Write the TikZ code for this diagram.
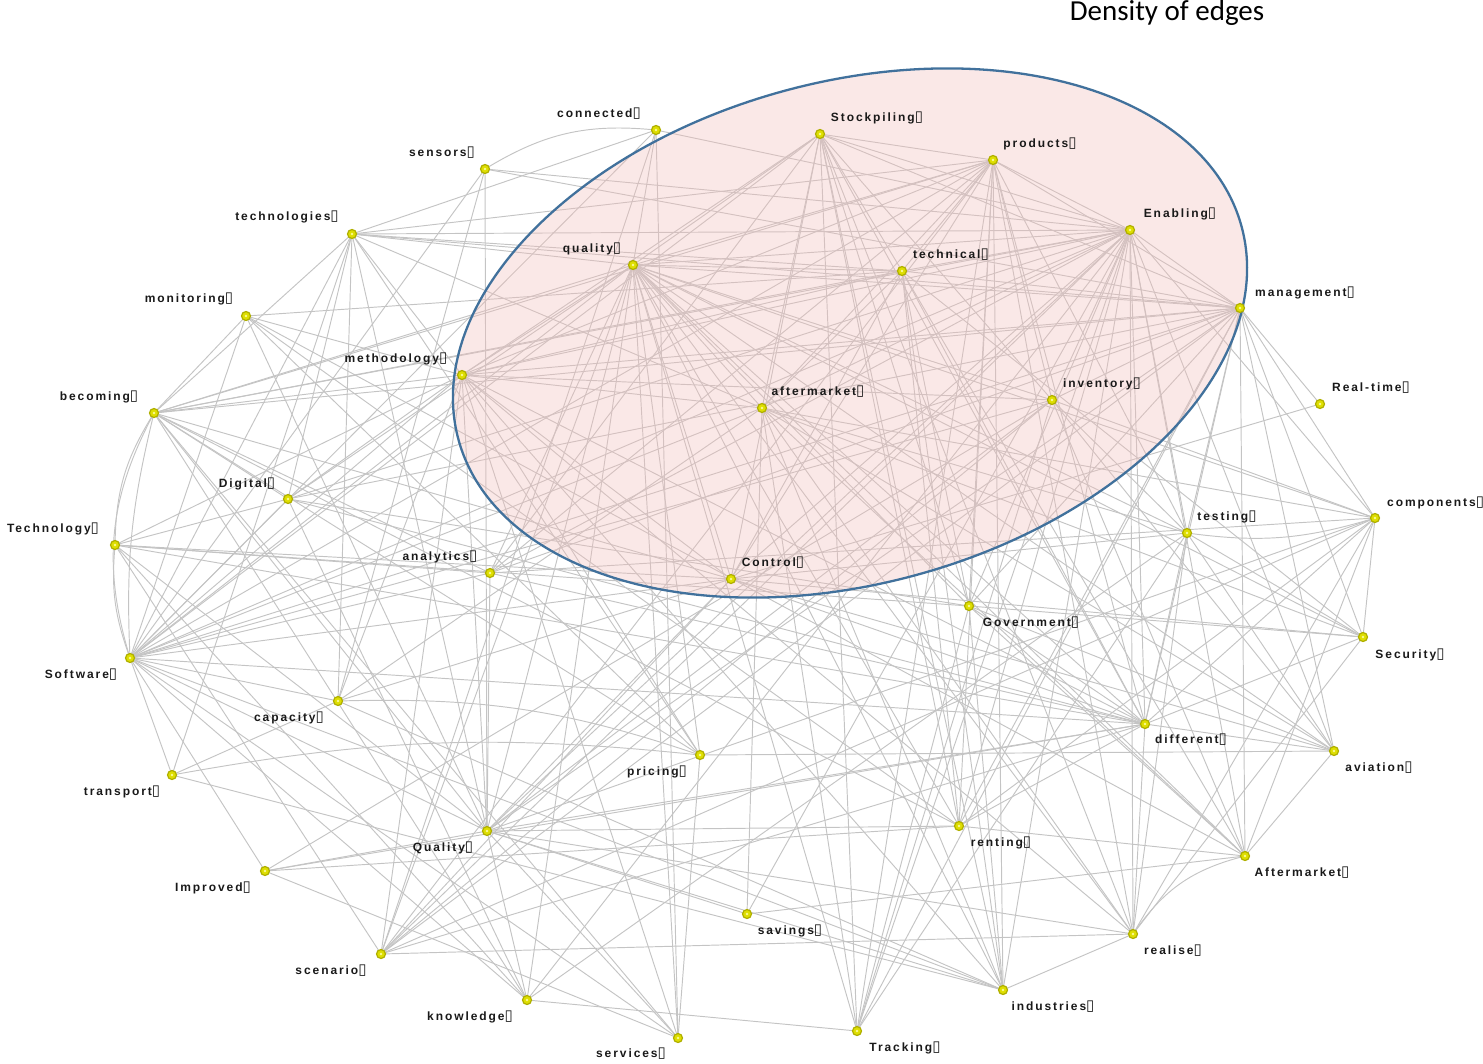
\documentclass[tikz,border=0pt]{standalone}
\usepackage{fontspec}
\newfontfamily\labfont[LetterSpace=16]{Liberation Sans}
\newfontfamily\bxglyphfont{DejaVu Sans}
\newfontfamily\titlefont{Carlito}
\newcommand{\bxg}{{\bxglyphfont\fontsize{15}{15}\selectfont ▯}}
\definecolor{edgegray}{RGB}{196,196,196}
\definecolor{dotfill}{RGB}{222,222,0}
\definecolor{dotring}{RGB}{175,175,0}
\definecolor{dotcore}{RGB}{250,250,150}
\definecolor{pinkfill}{RGB}{242,190,186}
\definecolor{ellblue}{RGB}{65,113,156}
\definecolor{labtext}{RGB}{25,25,25}
\begin{document}
\begin{tikzpicture}[x=1pt,y=-1pt,
  edge/.style={draw=edgegray,line width=0.95pt},
  dot/.style={circle,fill=dotfill,draw=dotring,line width=1.2pt,minimum size=9pt,inner sep=0pt},
  dotc/.style={circle,fill=dotcore,minimum size=2.6pt,inner sep=0pt},
  lab/.style={font=\labfont\bfseries\fontsize{12}{14}\selectfont,inner sep=0pt,text=labtext},
  ttl/.style={font=\titlefont\fontsize{29}{32}\selectfont,inner sep=0pt,text=black}]
\useasboundingbox (0,0) rectangle (1483,1063);
% node positions
\coordinate (p-con) at (656,130);
\coordinate (p-stk) at (820,134);
\coordinate (p-prd) at (993,160);
\coordinate (p-sen) at (485,169);
\coordinate (p-enb) at (1130,230);
\coordinate (p-tgs) at (352,234);
\coordinate (p-qal) at (633,265);
\coordinate (p-tec) at (902,271);
\coordinate (p-mgt) at (1240,308);
\coordinate (p-mon) at (246,316);
\coordinate (p-met) at (462,375);
\coordinate (p-inv) at (1052,400);
\coordinate (p-bec) at (154,413);
\coordinate (p-aft) at (762,408);
\coordinate (p-rlt) at (1320,404);
\coordinate (p-dig) at (288,499);
\coordinate (p-cmp) at (1375,518);
\coordinate (p-tst) at (1187,533);
\coordinate (p-tgy) at (115,545);
\coordinate (p-ana) at (490,573);
\coordinate (p-ctl) at (731,579);
\coordinate (p-gov) at (969,606);
\coordinate (p-sec) at (1363,637);
\coordinate (p-sof) at (130,658);
\coordinate (p-cap) at (338,701);
\coordinate (p-dif) at (1145,724);
\coordinate (p-avi) at (1334,751);
\coordinate (p-pri) at (700,755);
\coordinate (p-tra) at (172,775);
\coordinate (p-qub) at (487,831);
\coordinate (p-ren) at (959,826);
\coordinate (p-Afm) at (1245,856);
\coordinate (p-imp) at (265,871);
\coordinate (p-sav) at (747,914);
\coordinate (p-rea) at (1133,934);
\coordinate (p-sce) at (381,954);
\coordinate (p-kno) at (527,1000);
\coordinate (p-ind) at (1003,990);
\coordinate (p-ser) at (678,1038);
\coordinate (p-trk) at (857,1031);
% nodes (invisible, for edge ends)
\foreach \n in {con,stk,prd,sen,enb,tgs,qal,tec,mgt,mon,met,inv,bec,aft,rlt,dig,cmp,tst,tgy,ana,ctl,gov,sec,sof,cap,dif,avi,pri,tra,qub,ren,Afm,imp,sav,rea,sce,kno,ind,ser,trk}
  \node[circle,minimum size=8pt,inner sep=0pt] (\n) at (p-\n) {};
% edges
\foreach \a/\b in {
 qal/tec,qal/prd,qal/enb,qal/mgt,qal/stk,qal/tgs,qal/met,qal/bec,qal/sof,qal/dig,qal/ana,qal/ctl,qal/aft,qal/pri,qal/qub,qal/kno,qal/sce,qal/ser,qal/ind,qal/rea,qal/ren,qal/Afm,qal/dif,qal/avi,qal/sec,qal/gov,qal/tst,qal/cmp,qal/inv,qal/con,qal/trk,
 enb/prd,enb/tec,enb/met,enb/tgs,enb/bec,enb/mgt,enb/stk,enb/inv,enb/aft,enb/ctl,enb/tst,enb/cmp,enb/gov,enb/ren,enb/dif,enb/ind,enb/trk,enb/rea,enb/Afm,enb/avi,enb/qub,enb/sce,enb/sof,enb/kno,enb/sav,enb/ana,enb/dig,enb/sen,enb/con,
 prd/stk,prd/tec,prd/met,prd/tgs,prd/mgt,prd/inv,prd/aft,prd/gov,prd/ren,prd/ind,prd/trk,prd/rea,prd/dif,prd/bec,prd/ctl,prd/sof,prd/tst,prd/ana,prd/sce,
 tec/tgs,tec/met,tec/mgt,tec/stk,tec/aft,tec/ctl,tec/gov,tec/dif,tec/ind,tec/ren,tec/sec,tec/Afm,tec/bec,tec/mon,
 stk/mgt,stk/met,stk/aft,stk/ctl,stk/gov,stk/ren,stk/ind,stk/trk,stk/inv,stk/dif,stk/rea,stk/sof,stk/ana,
 mgt/met,mgt/bec,mgt/tgs,mgt/rlt,mgt/cmp,mgt/tst,mgt/sec,mgt/avi,mgt/Afm,mgt/dif,mgt/gov,mgt/ren,mgt/trk,mgt/sce,mgt/qub,mgt/sof,mgt/inv,mgt/sen,mgt/dig,mgt/ana,
 met/tgs,met/bec,met/mon,met/sof,met/tgy,met/dig,met/cap,met/qub,met/sce,met/aft,met/ctl,met/inv,met/pri,met/ser,met/ind,met/rea,met/dif,
 tgs/bec,tgs/sof,tgs/dig,tgs/cap,tgs/qub,tgs/pri,tgs/aft,tgs/con,tgs/tra,
 bec/dig,bec/ana,bec/qub,bec/kno,bec/ser,bec/pri,bec/ren,bec/ctl,bec/mon,
 sof/sen,sof/mon,sof/dig,sof/ana,sof/inv,sof/dif,sof/aft,sof/ctl,sof/cap,sof/qub,sof/imp,sof/kno,sof/ser,sof/ind,sof/con,sof/tra,
 tgy/dig,tgy/ctl,tgy/gov,tgy/dif,tgy/kno,tgy/sce,tgy/qub,tgy/ana,
 sen/qub,sen/cap,con/ser,con/sce,
 mon/qub,mon/ren,mon/Afm,mon/pri,
 dig/gov,dig/dif,dig/kno,
 ana/qub,ana/cmp,ana/dif,
 ctl/cap,ctl/qub,ctl/sce,ctl/sec,ctl/dif,ctl/avi,ctl/tst,ctl/rlt,
 aft/cap,aft/cmp,aft/tst,aft/sec,aft/avi,aft/ind,aft/trk,aft/sav,aft/rea,aft/Afm,
 inv/tst,inv/cmp,inv/Afm,inv/avi,inv/trk,inv/sce,inv/qub,inv/imp,
 cmp/qub,cmp/rea,cmp/dif,cmp/Afm,cmp/sec,cmp/sce,cmp/ren,
 tst/dif,tst/avi,tst/sec,tst/rea,tst/trk,tst/kno,
 gov/sec,gov/avi,gov/Afm,gov/dif,gov/ind,gov/trk,
 sec/rea,sec/dif,
 dif/avi,dif/rea,dif/ren,dif/sce,dif/imp,dif/qub,
 avi/Afm,avi/pri,
 Afm/ren,Afm/sav,
 rea/sce,rea/qub,rea/ind,
 ren/imp,ren/qub,
 ind/qub,ind/cap,ind/tra,
 trk/kno,sav/qub,ser/pri,ser/qub,ser/imp,kno/qub,imp/qub,cap/tra}
 \draw[edge] (\a) -- (\b);
% curved edges
\draw[edge] (sen) to[bend left=18] (con);
\draw[edge] (bec) to[bend right=22] (sof);
\draw[edge] (bec) to[bend right=8] (sof);
\draw[edge] (bec) to[bend right=15] (tgy);
\draw[edge] (tgy) to[bend right=12] (sof);
\draw[edge] (tst) to[bend right=12] (cmp);
\draw[edge] (rea) to[bend left=20] (Afm);
\draw[edge] (cap) to[bend left=10] (pri);
\draw[edge] (tra) to[bend left=8] (pri);
% highlighted region
\fill[pinkfill,fill opacity=0.35] (850,333) ellipse[x radius=405.8,y radius=250.9,rotate=15.24];
\draw[ellblue,line width=2.3pt] (850,333) ellipse[x radius=405.8,y radius=250.9,rotate=15.24];
% visible dots
\foreach \n in {con,stk,prd,sen,enb,tgs,qal,tec,mgt,mon,met,inv,bec,aft,rlt,dig,cmp,tst,tgy,ana,ctl,gov,sec,sof,cap,dif,avi,pri,tra,qub,ren,Afm,imp,sav,rea,sce,kno,ind,ser,trk}
  {\node[dot] (d-\n) at (p-\n) {}; \node[dotc] (c-\n) at (p-\n) {};}
% labels
\node[lab] (l-con) at (599,114) {connected\bxg};
\node[lab] (l-stk) at (877,118) {Stockpiling\bxg};
\node[lab] (l-prd) at (1040,144) {products\bxg};
\node[lab] (l-sen) at (442,153) {sensors\bxg};
\node[lab] (l-enb) at (1180,214) {Enabling\bxg};
\node[lab] (l-tgs) at (287,217) {technologies\bxg};
\node[lab] (l-qal) at (592,249) {quality\bxg};
\node[lab] (l-tec) at (951,255) {technical\bxg};
\node[lab] (l-mgt) at (1305,293) {management\bxg};
\node[lab] (l-mon) at (189,299) {monitoring\bxg};
\node[lab] (l-met) at (396,359) {methodology\bxg};
\node[lab] (l-inv) at (1102,384) {inventory\bxg};
\node[lab] (l-bec) at (99,397) {becoming\bxg};
\node[lab] (l-aft) at (818,392) {aftermarket\bxg};
\node[lab] (l-rlt) at (1371,388) {Real-time\bxg};
\node[lab] (l-dig) at (247,484) {Digital\bxg};
\node[lab,anchor=west] (l-cmp) at (1387,503) {components\bxg};
\node[lab] (l-tst) at (1227,517) {testing\bxg};
\node[lab] (l-tgy) at (53,529) {Technology\bxg};
\node[lab] (l-ana) at (440,557) {analytics\bxg};
\node[lab] (l-ctl) at (773,563) {Control\bxg};
\node[lab] (l-gov) at (1031,623) {Government\bxg};
\node[lab] (l-sec) at (1410,655) {Security\bxg};
\node[lab] (l-sof) at (81,675) {Software\bxg};
\node[lab] (l-cap) at (289,718) {capacity\bxg};
\node[lab] (l-dif) at (1191,740) {different\bxg};
\node[lab] (l-avi) at (1379,768) {aviation\bxg};
\node[lab] (l-pri) at (657,772) {pricing\bxg};
\node[lab] (l-tra) at (122,792) {transport\bxg};
\node[lab] (l-qub) at (443,848) {Quality\bxg};
\node[lab] (l-ren) at (1001,843) {renting\bxg};
\node[lab] (l-Afm) at (1302,873) {Aftermarket\bxg};
\node[lab] (l-imp) at (213,888) {Improved\bxg};
\node[lab] (l-sav) at (790,931) {savings\bxg};
\node[lab] (l-rea) at (1173,951) {realise\bxg};
\node[lab] (l-sce) at (331,971) {scenario\bxg};
\node[lab] (l-kno) at (470,1017) {knowledge\bxg};
\node[lab] (l-ind) at (1053,1007) {industries\bxg};
\node[lab] (l-ser) at (631,1054) {services\bxg};
\node[lab] (l-trk) at (905,1048) {Tracking\bxg};
% title
\node[ttl] (title) at (1167,13) {Density of edges};
\end{tikzpicture}
\end{document}
